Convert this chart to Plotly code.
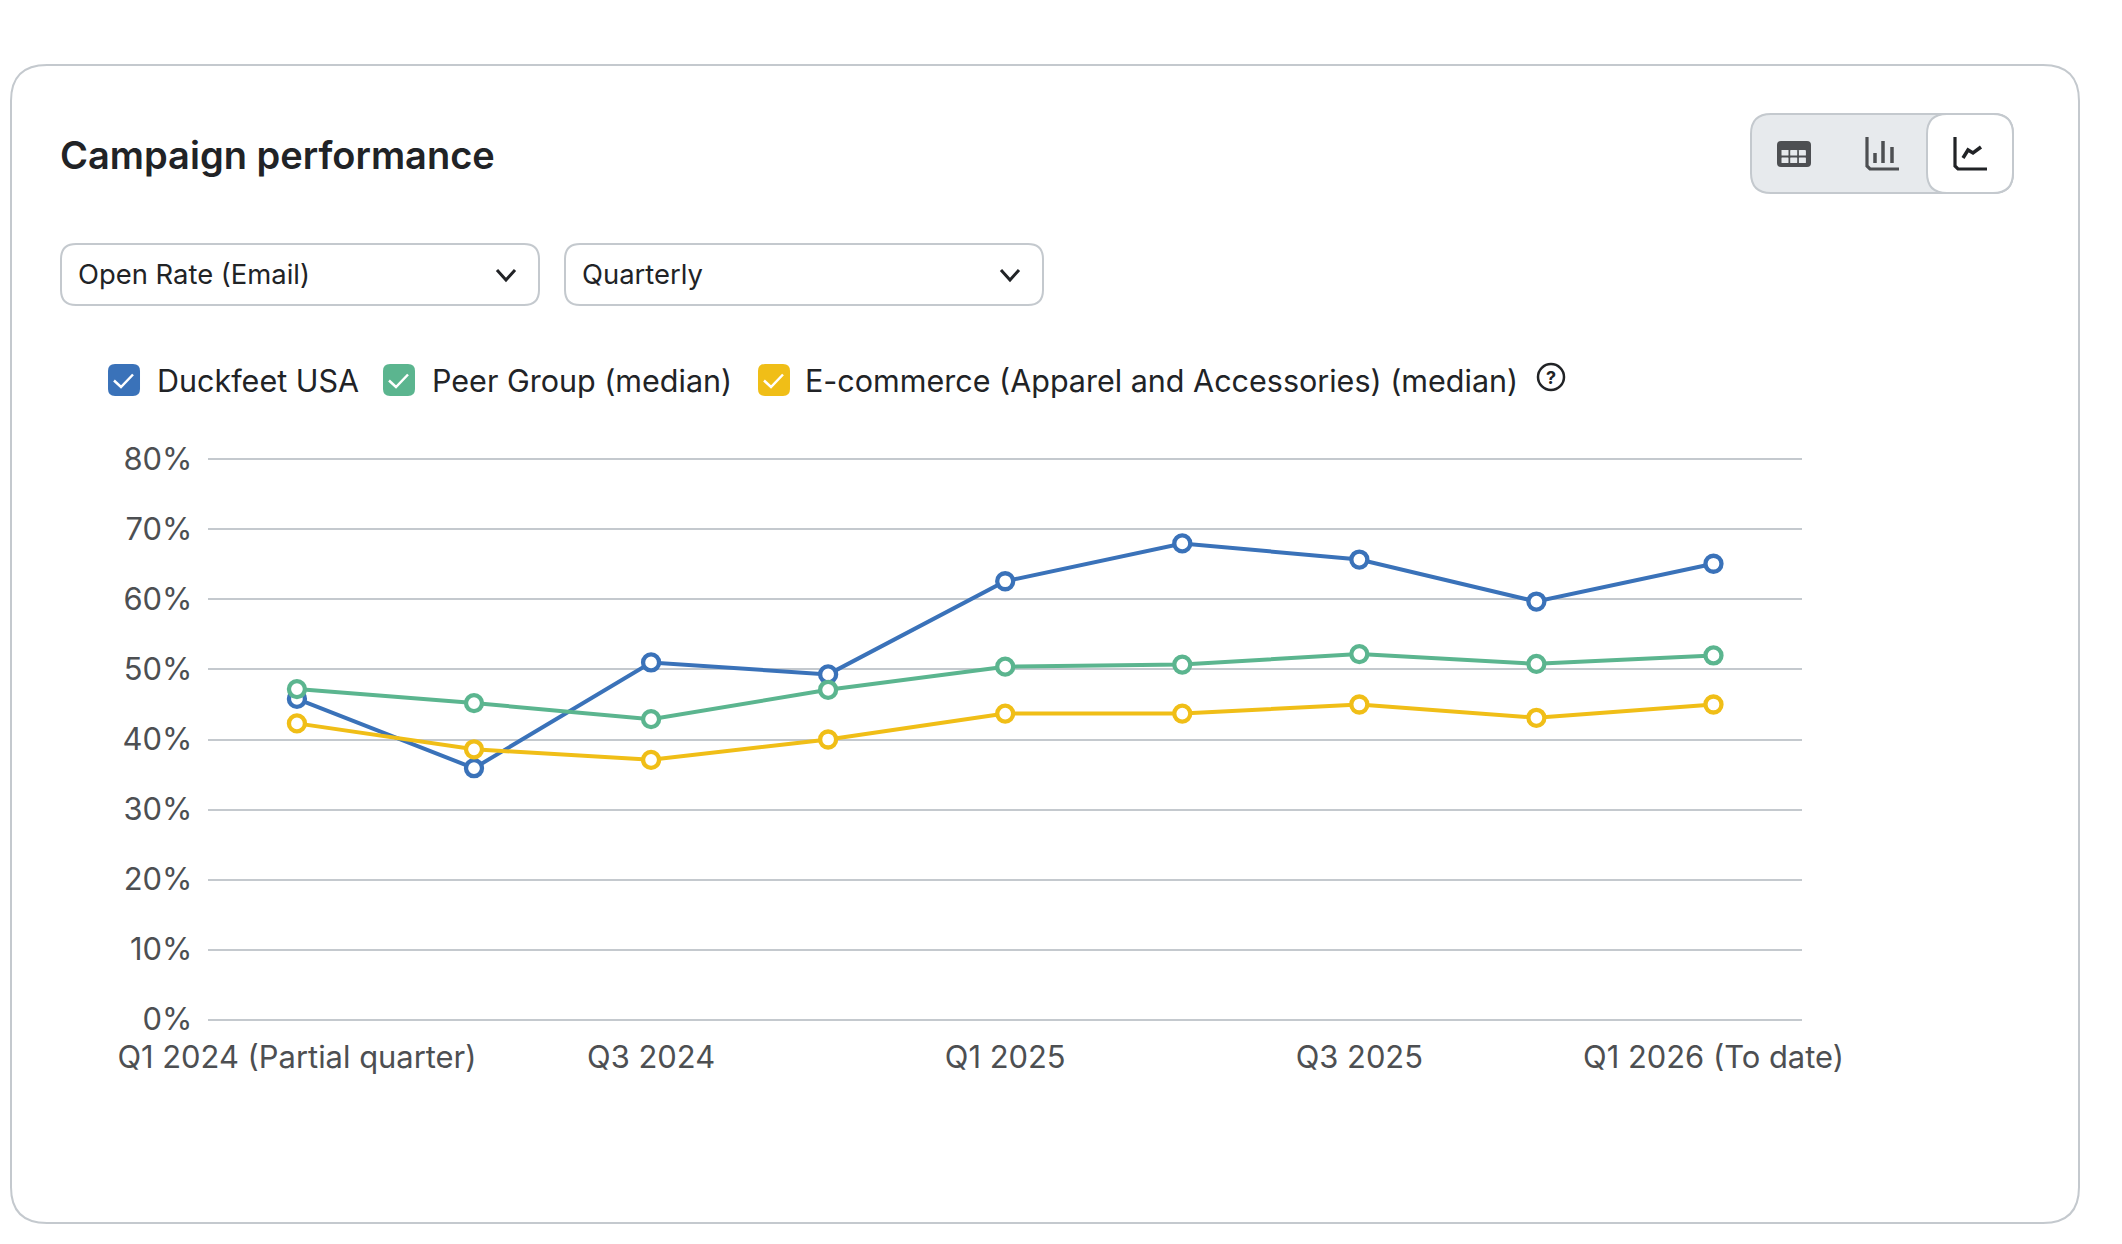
import plotly.graph_objects as go

W = 2122
H = 1244

quarters = [
    "Q1 2024 (Partial quarter)",
    "Q2 2024",
    "Q3 2024",
    "Q4 2024",
    "Q1 2025",
    "Q2 2025",
    "Q3 2025",
    "Q4 2025",
    "Q1 2026 (To date)",
]
duckfeet = [45.8, 35.9, 51.0, 49.3, 62.6, 68.0, 65.7, 59.7, 65.1]
peer_group = [47.2, 45.2, 42.9, 47.1, 50.4, 50.7, 52.2, 50.8, 52.0]
ecommerce = [42.3, 38.6, 37.1, 40.0, 43.7, 43.7, 45.0, 43.1, 45.0]
y_ticks = [0, 10, 20, 30, 40, 50, 60, 70, 80]
y_labels = ["0%", "10%", "20%", "30%", "40%", "50%", "60%", "70%", "80%"]

names = ["Duckfeet USA", "Peer Group (median)", "E-commerce (Apparel and Accessories) (median)"]
colors = ["#3a72b9", "#5bb58f", "#f0be17"]

FONT = "Inter, Liberation Sans, sans-serif"
BORDER = "#c4c9ce"
TEXT = "#212326"
GREY_TEXT = "#4d4f52"


def px(x):
    return x / W


def py(y):
    return 1 - y / H


def path(*cmds):
    # cmds are pixel based: ("M", x, y), ("L", x, y), ("Q", cx, cy, x, y), ("Z",)
    out = []
    for c in cmds:
        vals = c[1:]
        pts = []
        for i in range(0, len(vals), 2):
            pts.append(f"{px(vals[i]):.5f},{py(vals[i + 1]):.5f}")
        out.append(c[0] + " ".join(pts))
    return " ".join(out)


def round_rect(x0, y0, x1, y1, r):
    return path(
        ("M", x0 + r, y0),
        ("L", x1 - r, y0),
        ("Q", x1, y0, x1, y0 + r),
        ("L", x1, y1 - r),
        ("Q", x1, y1, x1 - r, y1),
        ("L", x0 + r, y1),
        ("Q", x0, y1, x0, y1 - r),
        ("L", x0, y0 + r),
        ("Q", x0, y0, x0 + r, y0),
        ("Z",),
    )


shapes = []


def add_path(d, fill="rgba(0,0,0,0)", line="rgba(0,0,0,0)", width=0):
    shapes.append(
        dict(
            type="path",
            xref="paper",
            yref="paper",
            path=d,
            fillcolor=fill,
            line=dict(color=line, width=width),
            layer="below",
        )
    )


def stroke(points, color, width):
    cmds = [("M", *points[0])] + [("L", *p) for p in points[1:]]
    add_path(path(*cmds), line=color, width=width)


annotations = []


def add_text(x, y, text, size, color=TEXT, anchor="left", weight=400):
    annotations.append(
        dict(
            x=px(x),
            y=py(y),
            xref="paper",
            yref="paper",
            text=text,
            showarrow=False,
            xanchor=anchor,
            yanchor="middle",
            font=dict(family=FONT, size=size, color=color, weight=weight),
        )
    )


# card
add_path(round_rect(11, 65, 2079, 1223, 36), fill="white", line=BORDER, width=2)
add_text(58, 155, "Campaign performance", 38, weight=600)

# dropdowns
for x0, x1, label in [(61, 539, "Open Rate (Email)"), (565, 1043, "Quarterly")]:
    add_path(round_rect(x0, 244, x1, 305, 15), fill="white", line=BORDER, width=2)
    add_text(x0 + 15, 274, label, 27.4)
    stroke([(x1 - 42, 270), (x1 - 33, 280), (x1 - 24, 270)], TEXT, 3)

# toggle buttons
add_path(round_rect(1751, 114, 2013, 193, 20), fill="#e7eaed", line=BORDER, width=2)
add_path(round_rect(1927, 114, 2013, 193, 20), fill="white", line=BORDER, width=2)
# table icon
add_path(round_rect(1777, 141, 1811, 167, 4), fill="#4d4f52")
for col in range(3):
    for row in range(2):
        cx = 1781.5 + col * 8.7
        cy = 150 + row * 7.5
        add_path(round_rect(cx, cy, cx + 7, cy + 5.5, 0.5), fill="#e7eaed")
# bar icon
stroke([(1867, 137), (1867, 166), (1870, 169), (1899, 169)], GREY_TEXT, 3.2)
stroke([(1875, 163), (1875, 153)], GREY_TEXT, 3.5)
stroke([(1883, 163), (1883, 141)], GREY_TEXT, 3.5)
stroke([(1892, 163), (1892, 147)], GREY_TEXT, 3.5)
# line icon
stroke([(1955, 137), (1955, 166), (1958, 169), (1987, 169)], TEXT, 3.2)
stroke([(1963, 158), (1968, 150), (1973, 153), (1981, 147)], TEXT, 3.5)

# legend built by hand so it can show the check boxes
legend_boxes = [108, 383, 758]
legend_text = [154.5, 429.5, 803]
for bx, tx, name, color in zip(legend_boxes, legend_text, names, colors):
    add_path(round_rect(bx, 364, bx + 32, 396, 7), fill=color)
    stroke([(bx + 6, 380.5), (bx + 13, 387), (bx + 25, 374.5)], "white", 2.5)
    add_text(tx, 380, name, 30.5)

# help icon
shapes.append(
    dict(
        type="circle",
        xref="paper",
        yref="paper",
        x0=px(1538),
        x1=px(1564),
        y0=py(390),
        y1=py(364),
        line=dict(color=TEXT, width=2.5),
        layer="below",
    )
)
add_text(1551, 377, "?", 18, anchor="center", weight=700)

fig = go.Figure()
for name, values, color in zip(names, [duckfeet, peer_group, ecommerce], colors):
    fig.add_trace(
        go.Scatter(
            x=quarters,
            y=values,
            name=name,
            mode="lines+markers",
            line=dict(color=color, width=4),
            marker=dict(size=16, color="white", line=dict(color=color, width=4.3)),
            showlegend=False,
        )
    )

fig.update_layout(
    width=W,
    height=H,
    autosize=False,
    margin=dict(l=0, r=0, t=0, b=0),
    paper_bgcolor="white",
    plot_bgcolor="rgba(0,0,0,0)",
    font=dict(family=FONT, size=30.9, color=GREY_TEXT),
    shapes=shapes,
    annotations=annotations,
    xaxis=dict(
        domain=[px(208.4), px(1802)],
        type="category",
        categoryorder="array",
        categoryarray=quarters,
        range=[-0.5, 8.5],
        tickmode="array",
        tickvals=quarters[::2],
        ticktext=quarters[::2],
        tickangle=0,
        automargin=False,
        showgrid=False,
        showline=False,
        zeroline=False,
        ticks="",
        ticklabelstandoff=15,
    ),
    yaxis=dict(
        # range padded a little so the 0% and 80% gridlines are not clipped
        domain=[py(1021), py(458)],
        range=[-0.2, 80.2],
        tickmode="array",
        tickvals=y_ticks,
        ticktext=y_labels,
        automargin=False,
        gridcolor=BORDER,
        gridwidth=2,
        zeroline=False,
        showline=False,
        ticks="",
        ticklabelstandoff=15,
    ),
)

fig.write_html(
    "out.html",
    config={"displayModeBar": False},
    post_script="document.body.style.margin='0';document.body.style.overflow='hidden';",
)
